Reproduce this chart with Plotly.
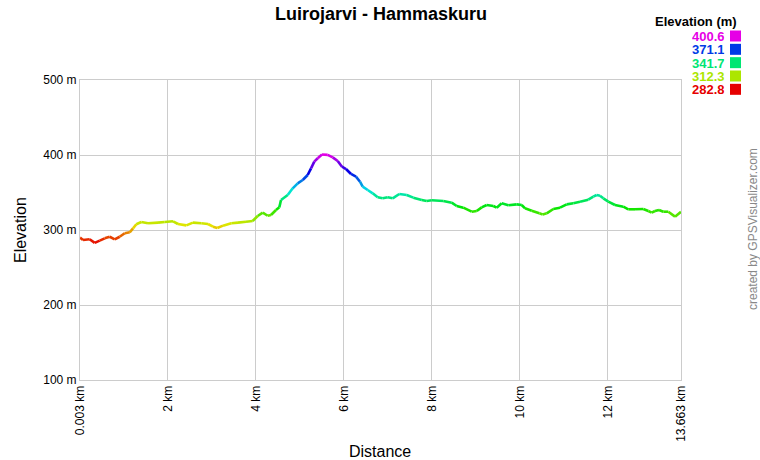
import colorsys
import plotly.graph_objects as go

# ---- data ----
distance_km = [0.003, 0.071, 0.223, 0.337, 0.451, 0.564, 0.678, 0.792, 0.905, 1.019,
               1.133, 1.208, 1.283, 1.396, 1.549, 1.776, 1.928, 2.117, 2.230, 2.419,
               2.571, 2.760, 2.912, 3.026, 3.124, 3.253, 3.442, 3.594, 3.776, 3.928,
               4.042, 4.156, 4.269, 4.344, 4.458, 4.533, 4.572, 4.724, 4.838, 4.951,
               5.065, 5.178, 5.254, 5.328, 5.406, 5.503, 5.633, 5.747, 5.860, 5.958,
               6.049, 6.163, 6.276, 6.367, 6.428, 6.542, 6.656, 6.769, 6.883, 6.997,
               7.110, 7.260, 7.429, 7.579, 7.770, 7.883, 7.997, 8.261, 8.451, 8.565,
               8.715, 8.906, 9.020, 9.133, 9.247, 9.397, 9.474, 9.588, 9.738, 9.929,
               10.043, 10.118, 10.270, 10.443, 10.520, 10.611, 10.761, 10.913, 11.065, 11.215,
               11.368, 11.556, 11.670, 11.747, 11.822, 11.897, 12.011, 12.163, 12.352, 12.465,
               12.618, 12.806, 12.920, 12.997, 13.072, 13.163, 13.261, 13.375, 13.527, 13.663]
elevation_m = [290.0, 286.7, 287.6, 282.8, 285.8, 288.9, 291.0, 287.6, 291.0, 295.6,
               296.9, 302.2, 307.6, 310.7, 309.0, 309.8, 310.7, 311.6, 308.0, 306.2,
               309.8, 309.0, 308.0, 304.4, 302.7, 305.8, 309.0, 309.8, 311.0, 312.0,
               318.7, 323.1, 319.0, 320.0, 326.7, 330.2, 340.0, 346.7, 355.6, 362.2,
               366.7, 373.3, 382.2, 391.1, 395.6, 400.6, 400.2, 396.9, 392.0, 384.4,
               381.3, 374.7, 371.1, 364.4, 357.8, 353.3, 348.9, 343.6, 342.2, 343.6,
               342.2, 348.0, 346.7, 343.1, 340.0, 338.7, 339.6, 338.7, 336.4, 332.0,
               329.8, 324.4, 325.3, 330.2, 333.3, 332.0, 329.8, 335.6, 332.9, 334.2,
               333.3, 328.9, 325.8, 322.2, 320.8, 322.2, 328.0, 329.8, 334.2, 335.6,
               337.8, 340.4, 344.4, 346.7, 345.8, 342.2, 337.8, 333.3, 331.1, 327.6,
               327.6, 328.0, 325.3, 323.1, 325.3, 326.7, 324.4, 324.4, 317.8, 324.4]

legend_values = [400.6, 371.1, 341.7, 312.3, 282.8]
x_tick_values = [0.003, 2, 4, 6, 8, 10, 12, 13.663]
x_tick_labels = ["0.003 km", "2 km", "4 km", "6 km", "8 km", "10 km", "12 km", "13.663 km"]
y_tick_values = [100, 200, 300, 400, 500]
y_tick_labels = ["100 m", "200 m", "300 m", "400 m", "500 m"]

E_MIN, E_MAX = min(legend_values), max(legend_values)
FONT = "Liberation Sans, Arial, sans-serif"


def elev_color(e):
    t = (e - E_MIN) / (E_MAX - E_MIN)
    t = max(0.0, min(1.0, t))
    r, g, b = colorsys.hsv_to_rgb(t * 300.0 / 360.0, 1.0, 0.9)
    return "rgb(%d,%d,%d)" % (round(r * 255), round(g * 255), round(b * 255))


# pixel -> paper helpers (plot area 80..681 x, 80..380 y)
def px(x):
    return (x - 80) / 601.0


def py(y):
    return (380 - y) / 300.0


fig = go.Figure()
for i in range(len(distance_km) - 1):
    fig.add_trace(go.Scatter(
        x=[distance_km[i], distance_km[i + 1]],
        y=[elevation_m[i], elevation_m[i + 1]],
        mode="lines",
        line=dict(color=elev_color((elevation_m[i] + elevation_m[i + 1]) / 2), width=2.6),
        hoverinfo="skip", showlegend=False))

annotations = [
    dict(text="<b>Luirojarvi - Hammaskuru</b>", x=0.5, y=py(14), xref="paper", yref="paper",
         showarrow=False, xanchor="center", yanchor="middle", font=dict(size=18, color="#000", family=FONT)),
    dict(text="Elevation", x=px(20), y=py(230), xref="paper", yref="paper", textangle=-90,
         showarrow=False, xanchor="center", yanchor="middle", font=dict(size=16, color="#000", family=FONT)),
    dict(text="Distance", x=px(380), y=py(451), xref="paper", yref="paper",
         showarrow=False, xanchor="center", yanchor="middle", font=dict(size=16, color="#000", family=FONT)),
    dict(text="created by GPSVisualizer.com", x=px(753), y=py(229), xref="paper", yref="paper",
         textangle=-90, showarrow=False, xanchor="center", yanchor="middle",
         font=dict(size=12, color="#888", family=FONT)),
    dict(text="<b>Elevation (m)</b>", x=px(739), y=py(21.5), xref="paper", yref="paper",
         showarrow=False, xanchor="right", yanchor="middle", font=dict(size=13, color="#000", family=FONT)),
]
shapes = []
for k, v in enumerate(legend_values):
    yc = 36 + k * 13.33
    col = elev_color(v)
    annotations.append(dict(text="<b>%.1f</b>" % v, x=px(727), y=py(yc), xref="paper", yref="paper",
                            showarrow=False, xanchor="right", yanchor="middle", height=12,
                            font=dict(size=13, color=col, family=FONT)))
    shapes.append(dict(type="rect", xref="paper", yref="paper", x0=px(730), x1=px(741),
                       y0=py(yc + 5.5), y1=py(yc - 5.5), fillcolor=col, line=dict(width=0)))

fig.update_layout(
    width=760, height=460,
    margin=dict(l=80, r=79, t=80, b=80),
    paper_bgcolor="white", plot_bgcolor="white",
    font=dict(family=FONT, size=12, color="#000"),
    showlegend=False,
    annotations=annotations,
    shapes=shapes,
)
fig.update_xaxes(range=[x_tick_values[0], x_tick_values[-1]], tickmode="array",
                 tickvals=x_tick_values, ticktext=x_tick_labels, tickangle=-90,
                 showgrid=True, gridcolor="#cccccc", gridwidth=1,
                 showline=True, linecolor="#cccccc", linewidth=1, mirror=True,
                 zeroline=False, ticks="", tickfont=dict(size=12, family=FONT, color="#000"))
fig.update_yaxes(range=[y_tick_values[0], y_tick_values[-1]], tickmode="array",
                 tickvals=y_tick_values, ticktext=y_tick_labels,
                 showgrid=True, gridcolor="#cccccc", gridwidth=1,
                 showline=True, linecolor="#cccccc", linewidth=1, mirror=True,
                 zeroline=False, ticks="", tickfont=dict(size=12, family=FONT, color="#000"))

fig.write_html("out.html", config={"displayModeBar": False},
               post_script="document.body.style.margin='0';document.body.style.padding='0';")
